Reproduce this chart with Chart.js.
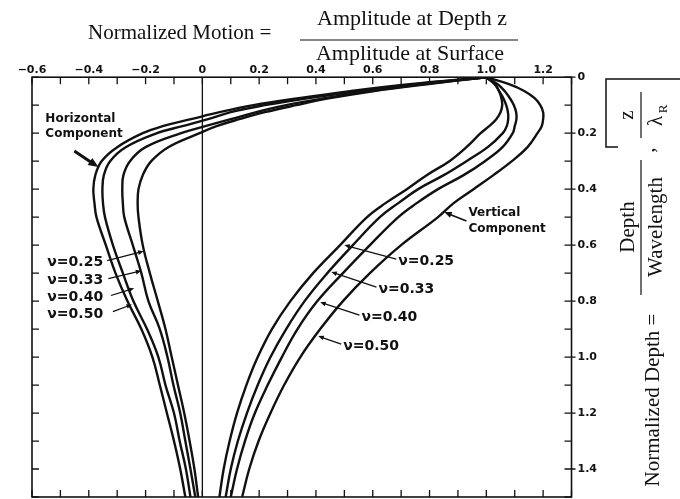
<!DOCTYPE html>
<html>
<head>
<meta charset="utf-8">
<script src="https://cdn.jsdelivr.net/npm/chart.js@4.4.1/dist/chart.umd.min.js"></script>
<style>
  html, body { margin: 0; padding: 0; background: #fff; }
  #wrap { width: 680px; height: 499px; }
</style>
</head>
<body>
<div id="wrap"><canvas id="rayleighChart" width="680" height="499"></canvas></div>
<script>
// normalized depth z / lambda_R (shared by every curve)
const depth = [0, 0.025, 0.05, 0.075, 0.1, 0.125, 0.15, 0.175, 0.2, 0.25, 0.3, 0.35, 0.4, 0.45, 0.5, 0.6, 0.7, 0.8, 0.9, 1.0, 1.1, 1.2, 1.3, 1.4, 1.5];

// horizontal component, one list per Poisson's ratio
const horiz25 = [1.0, 0.79, 0.60, 0.45, 0.33, 0.22, 0.13, 0.05, -0.01, -0.12, -0.18, -0.21, -0.225, -0.228, -0.225, -0.21, -0.185, -0.157, -0.13, -0.108, -0.086, -0.064, -0.045, -0.028, -0.015];
const horiz33 = [1.0, 0.775, 0.585, 0.43, 0.295, 0.19, 0.10, 0.01, -0.075, -0.20, -0.255, -0.278, -0.282, -0.28, -0.275, -0.245, -0.215, -0.19, -0.15, -0.123, -0.102, -0.078, -0.06, -0.042, -0.025];
const horiz40 = [1.0, 0.75, 0.55, 0.37, 0.22, 0.10, 0.02, -0.07, -0.16, -0.27, -0.325, -0.347, -0.352, -0.35, -0.343, -0.315, -0.28, -0.243, -0.195, -0.155, -0.13, -0.10, -0.08, -0.058, -0.042];
const horiz50 = [1.0, 0.73, 0.52, 0.34, 0.18, 0.06, -0.04, -0.14, -0.21, -0.30, -0.355, -0.377, -0.384, -0.38, -0.373, -0.34, -0.306, -0.264, -0.215, -0.176, -0.15, -0.125, -0.10, -0.078, -0.06];

// vertical component
const vert25 = [1.0, 1.03, 1.045, 1.053, 1.056, 1.05, 1.035, 1.01, 0.98, 0.93, 0.87, 0.79, 0.72, 0.645, 0.58, 0.485, 0.39, 0.31, 0.245, 0.195, 0.155, 0.122, 0.096, 0.075, 0.06];
const vert33 = [1.0, 1.03, 1.045, 1.06, 1.07, 1.076, 1.077, 1.072, 1.058, 1.005, 0.93, 0.85, 0.76, 0.69, 0.625, 0.53, 0.44, 0.36, 0.295, 0.24, 0.195, 0.157, 0.125, 0.10, 0.082];
const vert40 = [1.0, 1.04, 1.065, 1.083, 1.097, 1.105, 1.106, 1.10, 1.093, 1.057, 0.995, 0.92, 0.83, 0.755, 0.69, 0.59, 0.495, 0.405, 0.335, 0.28, 0.23, 0.185, 0.15, 0.122, 0.10];
const vert50 = [1.0, 1.08, 1.135, 1.17, 1.19, 1.2, 1.2, 1.195, 1.18, 1.145, 1.09, 1.025, 0.955, 0.885, 0.83, 0.70, 0.59, 0.495, 0.415, 0.345, 0.288, 0.24, 0.198, 0.165, 0.14];

const xTickValues = [-0.6, -0.4, -0.2, 0, 0.2, 0.4, 0.6, 0.8, 1.0, 1.2];
const xTickLabels = ['\u22120.6', '\u22120.4', '\u22120.2', '0', '0.2', '0.4', '0.6', '0.8', '1.0', '1.2'];
const yTickValues = [0, 0.2, 0.4, 0.6, 0.8, 1.0, 1.2, 1.4];
const yTickLabels = ['0', '0.2', '0.4', '0.6', '0.8', '1.0', '1.2', '1.4'];

// labels on the plot, placed in data units
const notes = [
  { text: 'Horizontal', x: -0.553, y: 0.15, size: 12 },
  { text: 'Component', x: -0.553, y: 0.204, size: 12 },
  { text: '\u03bd=0.25', x: -0.546, y: 0.661, size: 14 },
  { text: '\u03bd=0.33', x: -0.546, y: 0.725, size: 14 },
  { text: '\u03bd=0.40', x: -0.546, y: 0.786, size: 14 },
  { text: '\u03bd=0.50', x: -0.546, y: 0.846, size: 14 },
  { text: 'Vertical', x: 0.937, y: 0.486, size: 12 },
  { text: 'Component', x: 0.937, y: 0.543, size: 12 },
  { text: '\u03bd=0.25', x: 0.69, y: 0.657, size: 14 },
  { text: '\u03bd=0.33', x: 0.62, y: 0.757, size: 14 },
  { text: '\u03bd=0.40', x: 0.56, y: 0.857, size: 14 },
  { text: '\u03bd=0.50', x: 0.496, y: 0.961, size: 14 }
];
const pointers = [
  { from: [-0.451, 0.264], to: [-0.366, 0.321], w: 3, head: 11 },
  { from: [-0.335, 0.655], to: [-0.207, 0.622], w: 1.3, head: 6 },
  { from: [-0.331, 0.72], to: [-0.215, 0.692], w: 1.3, head: 6 },
  { from: [-0.322, 0.78], to: [-0.24, 0.754], w: 1.3, head: 6 },
  { from: [-0.315, 0.838], to: [-0.248, 0.812], w: 1.3, head: 6 },
  { from: [0.93, 0.514], to: [0.852, 0.482], w: 1.6, head: 8 },
  { from: [0.683, 0.65], to: [0.5, 0.6], w: 1.3, head: 6 },
  { from: [0.613, 0.75], to: [0.454, 0.696], w: 1.3, head: 6 },
  { from: [0.553, 0.85], to: [0.415, 0.804], w: 1.3, head: 6 },
  { from: [0.489, 0.954], to: [0.408, 0.925], w: 1.3, head: 6 }
];

const INK = '#111';
const SANS = '"DejaVu Sans", sans-serif';
const SERIF = '"Liberation Serif", "DejaVu Serif", serif';

function curve(values) {
  return {
    data: depth.map((d, i) => ({ x: values[i], y: d })),
    showLine: true,
    borderColor: INK,
    borderWidth: 2.4,
    pointRadius: 0,
    tension: 0.4,
    fill: false
  };
}

function pickLabel(values, labels, v) {
  const i = values.findIndex(t => Math.abs(t - v) < 1e-6);
  return i >= 0 ? labels[i] : '';
}

// drop the label overhang padding so the layout padding alone places the plot
function noOverhang(s) {
  s.paddingTop = 0; s.paddingBottom = 0; s.paddingLeft = 0; s.paddingRight = 0;
}

function arrow(ctx, x1, y1, x2, y2, w, head) {
  const ang = Math.atan2(y2 - y1, x2 - x1);
  ctx.lineWidth = w;
  ctx.beginPath();
  ctx.moveTo(x1, y1);
  ctx.lineTo(x2 - Math.cos(ang) * head * 0.6, y2 - Math.sin(ang) * head * 0.6);
  ctx.stroke();
  ctx.beginPath();
  ctx.moveTo(x2, y2);
  ctx.lineTo(x2 - head * Math.cos(ang - 0.4), y2 - head * Math.sin(ang - 0.4));
  ctx.lineTo(x2 - head * Math.cos(ang + 0.4), y2 - head * Math.sin(ang + 0.4));
  ctx.closePath();
  ctx.fill();
}

function rotText(ctx, text, x, y) {
  ctx.save();
  ctx.translate(x, y);
  ctx.rotate(-Math.PI / 2);
  ctx.fillText(text, 0, 0);
  ctx.restore();
}

const decor = {
  id: 'decor',
  beforeDraw(chart) {
    const ctx = chart.ctx;
    ctx.save();
    ctx.fillStyle = '#fff';
    ctx.fillRect(0, 0, chart.width, chart.height);
    ctx.restore();
  },
  afterDatasetsDraw(chart) {
    const { ctx, chartArea: a, scales: { x, y } } = chart;
    ctx.save();
    ctx.strokeStyle = INK;
    ctx.fillStyle = INK;

    // frame and zero line
    ctx.lineWidth = 1.6;
    ctx.strokeRect(a.left, a.top, a.right - a.left, a.bottom - a.top);
    const x0 = x.getPixelForValue(0);
    ctx.lineWidth = 1.3;
    ctx.beginPath();
    ctx.moveTo(x0, a.top);
    ctx.lineTo(x0, a.bottom);
    ctx.stroke();

    // inward tick marks every 0.1
    ctx.lineWidth = 1.3;
    ctx.beginPath();
    for (let i = -6; i <= 13; i++) {
      const px = x.getPixelForValue(i / 10);
      ctx.moveTo(px, a.top); ctx.lineTo(px, a.top + 7);
      ctx.moveTo(px, a.bottom); ctx.lineTo(px, a.bottom - 7);
    }
    for (let j = 0; j <= 15; j++) {
      const py = y.getPixelForValue(j / 10);
      ctx.moveTo(a.left, py); ctx.lineTo(a.left + 7, py);
      ctx.moveTo(a.right - 7, py); ctx.lineTo(a.right, py);
      if (j % 2 === 0) { ctx.moveTo(a.right, py); ctx.lineTo(a.right + 4, py); }
    }
    ctx.stroke();

    // annotations
    ctx.textBaseline = 'middle';
    ctx.textAlign = 'left';
    notes.forEach(n => {
      ctx.font = 'bold ' + n.size + 'px ' + SANS;
      ctx.fillText(n.text, x.getPixelForValue(n.x), y.getPixelForValue(n.y));
    });
    pointers.forEach(p => {
      arrow(ctx, x.getPixelForValue(p.from[0]), y.getPixelForValue(p.from[1]),
        x.getPixelForValue(p.to[0]), y.getPixelForValue(p.to[1]), p.w, p.head);
    });

    // top title
    ctx.font = '21px ' + SERIF;
    ctx.textAlign = 'left';
    ctx.fillText('Normalized Motion =', 88, 33);
    ctx.textAlign = 'center';
    ctx.font = '22px ' + SERIF;
    ctx.fillText('Amplitude at Depth z', 412, 19);
    ctx.fillText('Amplitude at Surface', 410, 54);
    ctx.lineWidth = 1.2;
    ctx.beginPath();
    ctx.moveTo(300, 40); ctx.lineTo(518, 40);
    ctx.stroke();

    // right-hand title, rotated
    ctx.font = '21px ' + SERIF;
    rotText(ctx, 'Normalized Depth =', 653, 400);
    rotText(ctx, 'Depth', 628, 227);
    rotText(ctx, 'Wavelength', 656, 227);
    ctx.beginPath();
    ctx.moveTo(641, 160); ctx.lineTo(641, 295);
    ctx.stroke();
    rotText(ctx, ',', 648, 150);
    rotText(ctx, 'z', 627, 115);
    rotText(ctx, '\u03bb', 656, 121);
    ctx.font = '13px ' + SERIF;
    rotText(ctx, 'R', 664, 109);
    ctx.beginPath();
    ctx.moveTo(641, 92); ctx.lineTo(641, 138);
    ctx.stroke();
    ctx.lineWidth = 1.5;
    ctx.beginPath();
    ctx.moveTo(618, 147); ctx.lineTo(606, 147); ctx.lineTo(606, 79); ctx.lineTo(680, 79);
    ctx.stroke();
    ctx.restore();
  }
};

const ctx = document.getElementById('rayleighChart').getContext('2d');
window.myChart = new Chart(ctx, {
  type: 'scatter',
  data: {
    datasets: [horiz25, horiz33, horiz40, horiz50, vert25, vert33, vert40, vert50].map(curve)
  },
  options: {
    responsive: false,
    animation: false,
    devicePixelRatio: 1,
    layout: { padding: { left: 32, right: 77, top: 64, bottom: 2 } },
    plugins: { legend: { display: false }, tooltip: { enabled: false } },
    scales: {
      x: {
        type: 'linear', position: 'top', min: -0.6, max: 1.3,
        afterBuildTicks: s => { s.ticks = xTickValues.map(v => ({ value: v })); },
        afterFit: noOverhang,
        ticks: {
          callback: v => pickLabel(xTickValues, xTickLabels, v),
          color: INK, font: { family: SANS, size: 11, weight: 'bold' },
          padding: 0, autoSkip: false, maxRotation: 0
        },
        grid: { display: false, drawTicks: false },
        border: { display: false }
      },
      y: {
        type: 'linear', position: 'right', reverse: true, min: 0, max: 1.5,
        afterBuildTicks: s => { s.ticks = yTickValues.map(v => ({ value: v })); },
        afterFit: noOverhang,
        ticks: {
          callback: v => pickLabel(yTickValues, yTickLabels, v),
          color: INK, font: { family: SANS, size: 11, weight: 'bold' },
          padding: 6, autoSkip: false
        },
        grid: { display: false, drawTicks: false },
        border: { display: false }
      }
    }
  },
  plugins: [decor]
});
</script>
</body>
</html>
